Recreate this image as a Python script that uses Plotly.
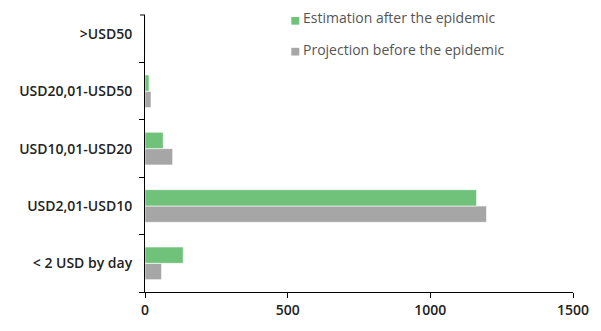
import plotly.graph_objects as go

categories = ["< 2 USD by day", "USD2,01-USD10", "USD10,01-USD20", "USD20,01-USD50", ">USD50"]
after_epidemic = [134, 1162, 64, 14, 0.5]
before_epidemic = [58, 1197, 97, 21, 1]
series_names = ["Estimation after the epidemic", "Projection before the epidemic"]
x_ticks = [0, 500, 1000, 1500]

GREEN = "#70c27b"
GRAY = "#a6a6a6"
FONT = "Open Sans"
PW = 430.0
PH = 287.0

fig = go.Figure()
fig.add_trace(go.Bar(y=categories, x=before_epidemic, orientation="h", name=series_names[1],
                     marker=dict(color=GRAY, line=dict(color="rgba(255,255,255,0.6)", width=1)),
                     showlegend=False))
fig.add_trace(go.Bar(y=categories, x=after_epidemic, orientation="h", name=series_names[0],
                     marker=dict(color=GREEN, line=dict(color="rgba(255,255,255,0.6)", width=1)),
                     showlegend=False))

# custom legend (pixel positions relative to plot area)
legend_items = [(series_names[0], GREEN, 21, 18), (series_names[1], GRAY, 53, 51)]
for name, col, sq_c, txt_c in legend_items:
    fig.add_shape(type="rect", xref="paper", yref="paper",
                  x0=(292 - 145) / PW, x1=(300 - 145) / PW,
                  y0=(302 - sq_c - 4) / PH, y1=(302 - sq_c + 4) / PH,
                  fillcolor=col, line=dict(width=0))
    fig.add_annotation(xref="paper", yref="paper", x=(302 - 145) / PW, y=(302 - txt_c) / PH,
                       text=name, showarrow=False, xanchor="left", yanchor="middle",
                       font=dict(family=FONT, size=14, color="#555555", weight=500))

# small tick at the top end of the y axis line
fig.add_shape(type="line", xref="paper", yref="paper", x0=-5 / PW, x1=0, y0=1, y1=1,
              line=dict(color="black", width=1))

fig.update_layout(
    width=601, height=331,
    margin=dict(l=145, r=26, t=15, b=29),
    barmode="group", bargap=0.43, bargroupgap=0,
    plot_bgcolor="white", paper_bgcolor="white",
    font=dict(family=FONT, size=14, color="#222222"),
    xaxis=dict(range=[0, 1500], tickvals=x_ticks, showgrid=False, zeroline=False,
               showline=True, linecolor="black", linewidth=1,
               ticks="outside", ticklen=5, tickcolor="black",
               tickfont=dict(family=FONT, size=14, color="#222222", weight=600)),
    yaxis=dict(type="category", categoryorder="array", categoryarray=categories,
               range=[-0.5, 4.33], showgrid=False, zeroline=False,
               showline=True, linecolor="black", linewidth=1,
               ticks="outside", ticklen=5, tickcolor="black", tickson="boundaries",
               ticklabelstandoff=9,
               tickfont=dict(family=FONT, size=14, color="#222222", weight=600)),
)
fig.write_html("out.html")
